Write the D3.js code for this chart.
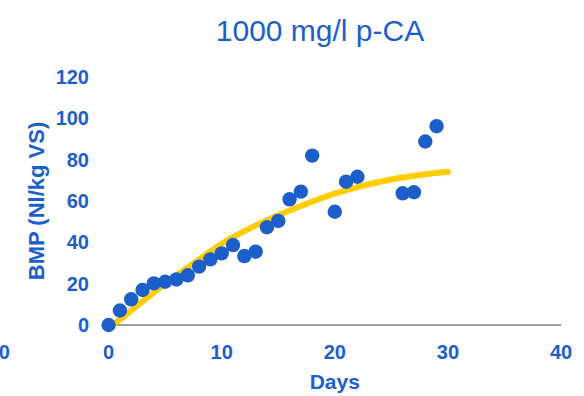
<!DOCTYPE html>
<html>
<head>
<meta charset="utf-8">
<script src="https://cdn.jsdelivr.net/npm/d3@7"></script>
<style>
  html, body { margin: 0; padding: 0; background: #fff; }
  svg { display: block; font-family: "Liberation Sans", Arial, sans-serif; }
</style>
</head>
<body>
<svg id="chart" width="584" height="396"></svg>
<script>
// Data
const days = [0, 1, 2, 3, 4, 5, 6, 7, 8, 9, 10, 11, 12, 13, 14, 15, 16, 17, 18, 20, 21, 22, 26, 27, 28, 29];
const bmp  = [0, 7, 12.4, 16.9, 20.1, 20.9, 22, 24, 28.2, 31.7, 34.6, 38.6, 33.3, 35.4, 47.2, 50.3, 60.7, 64.4, 81.8, 54.7, 69.2, 71.6, 63.6, 64.1, 88.6, 96];
const fitDays = [0.5, 1, 2, 3, 4, 5, 6, 7, 8, 9, 10, 11, 12, 13, 14, 15, 16, 17, 18, 20, 22, 24, 26, 28, 30];
const fitBmp  = [0.8, 2.6, 7.0, 11.4, 15.8, 20.0, 24.0, 27.8, 31.6, 35.5, 39.2, 42.4, 45.3, 48.0, 50.6, 53.0, 55.3, 57.5, 59.6, 63.4, 66.6, 69.2, 71.2, 72.8, 74.0];
const xTicks = [-10, 0, 10, 20, 30, 40];
const yTicks = [0, 20, 40, 60, 80, 100, 120];
const title = "1000 mg/l p-CA";
const xTitle = "Days";
const yTitle = "BMP (Nl/kg VS)";

const blue = "#1c5fcb";
const yellow = "#ffcd00";

const svg = d3.select("#chart");
const x = d3.scaleLinear().domain([0, 40]).range([108.6, 561]);
const y = d3.scaleLinear().domain([0, 120]).range([325, 76.5]);

// Title
svg.append("text")
  .attr("x", 320).attr("y", 41)
  .attr("text-anchor", "middle")
  .attr("fill", blue)
  .style("font-size", "30px")
  .text(title);

// Baseline (x axis line)
svg.append("line")
  .attr("x1", x(0)).attr("x2", x(40))
  .attr("y1", y(0)).attr("y2", y(0))
  .attr("stroke", "#9e9e9e").attr("stroke-width", 2);

// Y tick labels
svg.append("g").selectAll("text").data(yTicks).join("text")
  .attr("x", 89).attr("y", d => y(d))
  .attr("dy", "0.36em")
  .attr("text-anchor", "end")
  .attr("fill", blue)
  .style("font-size", "20px").style("font-weight", "bold")
  .text(d => d);

// X tick labels
svg.append("g").selectAll("text").data(xTicks).join("text")
  .attr("x", d => x(d)).attr("y", 352)
  .attr("dy", "0.36em")
  .attr("text-anchor", "middle")
  .attr("fill", blue)
  .style("font-size", "20px").style("font-weight", "bold")
  .text(d => d);

// Axis titles
svg.append("text")
  .attr("x", x(20)).attr("y", 389)
  .attr("text-anchor", "middle")
  .attr("fill", blue)
  .style("font-size", "21px").style("font-weight", "bold")
  .text(xTitle);

svg.append("text")
  .attr("transform", "translate(44,201) rotate(-90)")
  .attr("text-anchor", "middle")
  .attr("fill", blue)
  .style("font-size", "22px").style("font-weight", "bold")
  .text(yTitle);

// Fitted curve
const fit = fitDays.map((d, i) => [d, fitBmp[i]]);
svg.append("path")
  .datum(fit)
  .attr("fill", "none")
  .attr("stroke", yellow)
  .attr("stroke-width", 6)
  .attr("stroke-linecap", "round")
  .attr("d", d3.line().x(d => x(d[0])).y(d => y(d[1])).curve(d3.curveMonotoneX));

// Points
svg.append("g").selectAll("circle").data(days.map((d, i) => [d, bmp[i]])).join("circle")
  .attr("cx", d => x(d[0]))
  .attr("cy", d => y(d[1]))
  .attr("r", 7.2)
  .attr("fill", blue);
</script>
</body>
</html>
